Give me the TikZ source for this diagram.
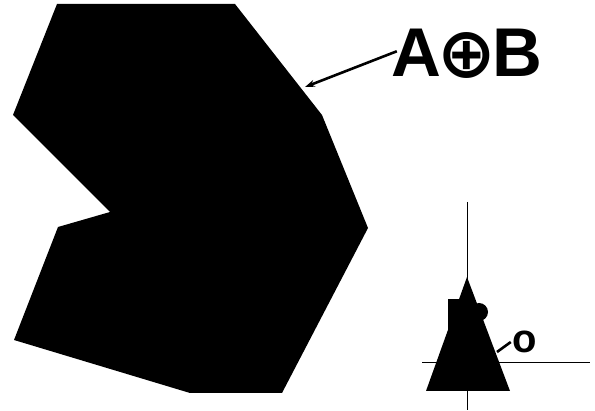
\documentclass[tikz,border=0pt]{standalone}
\usepackage{fontspec}
\setmainfont{Liberation Sans}
\newfontfamily\symfont{DejaVu Sans}
\usetikzlibrary{positioning,arrows.meta}

\begin{document}
\begin{tikzpicture}[
    x=1pt, y=-1pt,
    every node/.style={inner sep=0pt, outer sep=0pt},
    biglabel/.style={font=\fontsize{69}{69}\selectfont\bfseries},
    smalllabel/.style={font=\fontsize{40}{40}\selectfont\bfseries},
    solid/.style={fill=black},
    axis/.style={draw=black, line width=0.9pt},
    pointer/.style={-{Stealth[length=10pt,width=7pt]}, line width=2.6pt},
    tick/.style={line width=2.6pt}
]
\useasboundingbox (0,0) rectangle (595,411);

% Minkowski sum region
\fill[solid] (57,4) -- (235,4) -- (322,115) -- (368,228) -- (282,393)
    -- (190,393) -- (14,340) -- (58,227) -- (110,212) -- (13,115) -- cycle;

% Label and pointer
\node[biglabel, anchor=base] (sum) at (467,77)
    {A\kern-4pt\raisebox{-1pt}{\symfont\bfseries\fontsize{70}{70}\selectfont ⊕}\kern-4ptB};
\coordinate (edge) at (305,87);
\draw[pointer] ([xshift=5pt,yshift=3pt]sum.west) -- (edge);

% Small figure with axes
\coordinate (vtop) at (467,202);
\coordinate (vbot) at (467,410);
\coordinate (hleft) at (422,362);
\coordinate (hright) at (590,362);
\draw[axis] (vtop) -- (vbot);
\draw[axis] (hleft) -- (hright);

\fill[solid] (467,277) -- (510,391) -- (426,391) -- cycle;
\fill[solid] (448,299) rectangle (467,340);
\fill[solid] (479,312) circle[radius=9];

% Origin label
\node[smalllabel] (orig) at (525,342) {o};
\coordinate (origtip) at (497,352);
\draw[tick] ([xshift=-2pt]orig.west) -- (origtip);

\end{tikzpicture}
\end{document}
